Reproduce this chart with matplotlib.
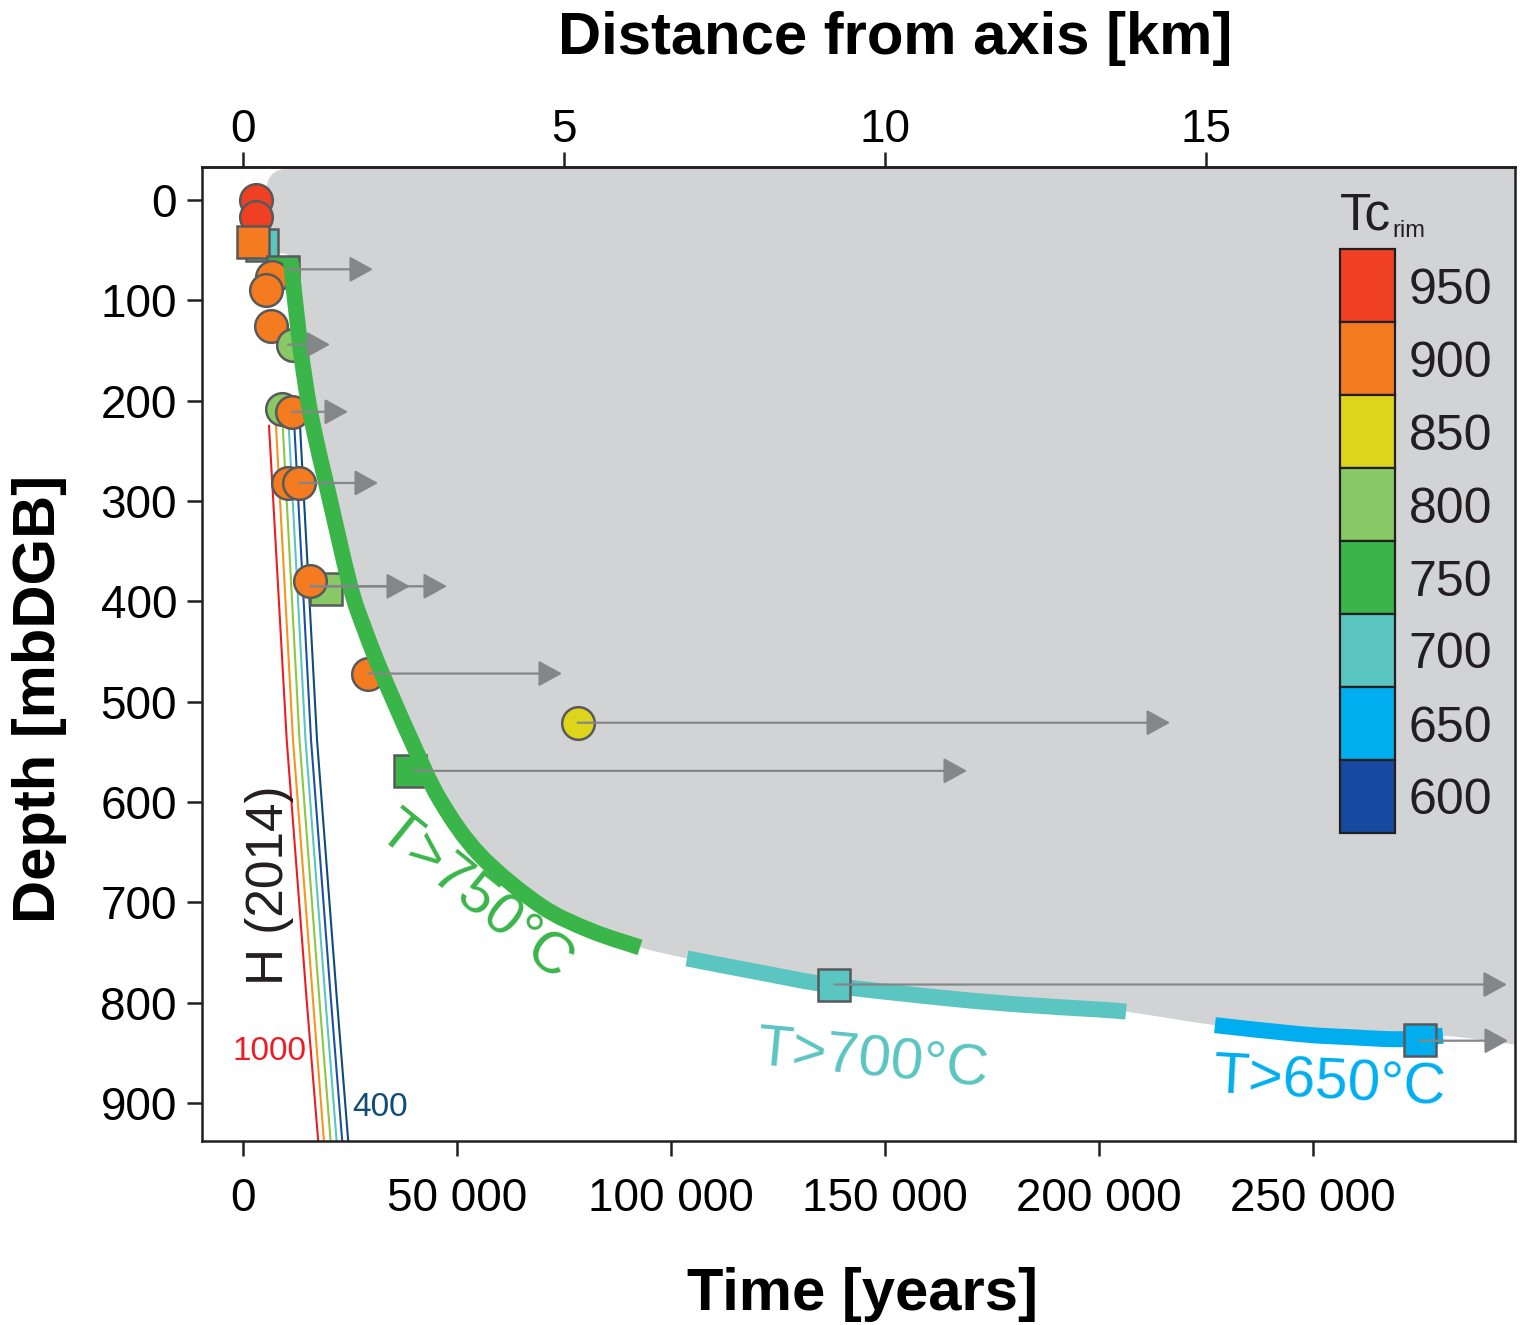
import matplotlib
matplotlib.use("Agg")
import matplotlib.pyplot as plt
from matplotlib.patches import Rectangle, PathPatch
from matplotlib.path import Path

plt.rcParams['font.family'] = ['Liberation Sans', 'DejaVu Sans']

# ---------------- data ----------------
x_ticks = [0, 50000, 100000, 150000, 200000, 250000]
x_ticklabels = ["0", "50 000", "100 000", "150 000", "200 000", "250 000"]
y_ticks = [0, 100, 200, 300, 400, 500, 600, 700, 800, 900]
y_ticklabels = ["0", "100", "200", "300", "400", "500", "600", "700", "800", "900"]
top_ticks_km = [0, 5, 10, 15]
top_ticklabels = ["0", "5", "10", "15"]
years_per_km = 15000

tc_levels = [950, 900, 850, 800, 750, 700, 650, 600]
tc_colors = ["#EF4023", "#F47B20", "#DDD41C", "#88C865",
             "#3AB54A", "#5BC5C1", "#00AEEF", "#1649A0"]

# grey envelope (upper-left rounded start), then the isotherm curves
env_top_t = [11450, 7480, 5610, 5840, 7710]
env_top_d = [-33, -28, -15, 15, 50]
env_tail_t = [297200]
env_tail_d = [842]

t750_t = [11215, 13318, 15187, 17056, 19393, 25000, 28505, 32477, 39252,
          46028, 55374, 69393, 81075, 92757]
t750_d = [62, 144, 199, 239, 282, 384, 429, 472, 538,
          598, 653, 703, 728, 745]
t700_t = [103740, 120790, 137850, 165190, 181540, 200230, 206310]
t700_d = [756, 770, 783, 796, 802, 807, 809]
t650_t = [227100, 246960, 258640, 270330, 280370]
t650_d = [822.5, 831.5, 834.5, 836.5, 833]

# H (2014) model lines, 1000 ... 400
h2014_d = [225, 538, 798, 939]
h2014_t = [
    [6080, 10210, 14880, 17590],
    [7710, 11680, 16360, 18930],
    [9280, 13200, 17870, 20490],
    [10680, 14600, 19280, 21890],
    [11990, 15890, 20560, 23200],
    [13320, 17290, 21960, 24600],
]
h2014_colors = ["#ED1C24", "#F7941D", "#8DC63F", "#5BC5C1", "#1F4FA0", "#0F4C78"]

# samples
sample_t = [2960, 2960, 4440, 2400, 9230, 6780, 5370, 6540, 11760, 9040, 11380,
            10580, 13150, 19280, 15650, 29280, 78200, 39000, 138200, 274900]
sample_d = [0, 17, 45, 42, 72, 77, 90, 126, 144, 208, 211,
            282, 282, 388, 380, 472, 521, 569, 782, 837]
sample_tc = [950, 950, 700, 900, 750, 900, 900, 900, 800, 800, 900,
             900, 900, 800, 900, 900, 850, 750, 700, 650]
sample_marker = ['o', 'o', 's', 's', 's', 'o', 'o', 'o', 'o', 'o', 'o',
                 'o', 'o', 's', 'o', 'o', 'o', 's', 's', 's']

# minimum-time arrows
arrow_d = [69, 144, 211, 282, 385, 385, 472, 521, 569, 782, 838]
arrow_from = [10280, 10520, 11380, 13150, 15650, 15650, 29280, 78200, 40000, 138200, 274900]
arrow_to = [30370, 20330, 24530, 31540, 39020, 47660, 74530, 216600, 169160, 295300, 295560]


def smooth_vertices(xs, ys):
    """Catmull-Rom through the given points, expressed as cubic Bezier path vertices."""
    pts = list(zip(xs, ys))
    n = len(pts)
    verts = [pts[0]]
    codes = [Path.MOVETO]
    for i in range(n - 1):
        p0 = pts[i - 1] if i > 0 else pts[i]
        p1 = pts[i]
        p2 = pts[i + 1]
        p3 = pts[i + 2] if i + 2 < n else pts[i + 1]
        c1 = (p1[0] + (p2[0] - p0[0]) / 6.0, p1[1] + (p2[1] - p0[1]) / 6.0)
        c2 = (p2[0] - (p3[0] - p1[0]) / 6.0, p2[1] - (p3[1] - p1[1]) / 6.0)
        verts += [c1, c2, p2]
        codes += [Path.CURVE4] * 3
    return verts, codes


# ---------------- figure ----------------
W, H = 1524, 1325
fig = plt.figure(figsize=(W / 100, H / 100), dpi=100)
ax = fig.add_axes([202 / W, 1 - 1141 / H, 1313 / W, 974 / H])
ax.set_xlim(-9580, 297200)
ax.set_ylim(938, -33)

dark = "#231F20"
grey_fill = "#D1D3D4"
arrow_col = "#848688"
edge_col = "#58595B"
tc_map = dict(zip(tc_levels, tc_colors))

# grey region
env_t = env_top_t + t750_t + t700_t + t650_t + env_tail_t
env_d = env_top_d + t750_d + t700_d + t650_d + env_tail_d
xr = ax.get_xlim()[1] + 5000
ytop = ax.get_ylim()[1] - 5
v, c = smooth_vertices(env_t, env_d)
v += [(xr, env_d[-1]), (xr, ytop), (env_t[0], ytop), (env_t[0], ytop)]
c += [Path.LINETO, Path.LINETO, Path.LINETO, Path.CLOSEPOLY]
ax.add_patch(PathPatch(Path(v, c), fc=grey_fill, ec='none', lw=0, zorder=0))

# H (2014) lines
for tt, col in zip(h2014_t, h2014_colors):
    ax.plot(tt, h2014_d, color=col, lw=1.5, zorder=1)

lw_iso = 11.5


def iso_line(ts, ds, color, z):
    vv, cc = smooth_vertices(ts, ds)
    ax.add_patch(PathPatch(Path(vv, cc), fc='none', ec=color, lw=lw_iso,
                           capstyle='butt', joinstyle='round', zorder=z))


iso_line(t700_t, t700_d, tc_map[700], 2)
iso_line(t650_t, t650_d, tc_map[650], 2)

for t, d, tc, m in zip(sample_t, sample_d, sample_tc, sample_marker):
    ax.plot([t], [d], marker=m, ms=23.5, mfc=tc_map[tc], mec=edge_col, mew=1.8,
            ls='none', zorder=3)

iso_line(t750_t, t750_d, tc_map[750], 4)

for d, a, b in zip(arrow_d, arrow_from, arrow_to):
    ax.annotate("", xy=(b, d), xytext=(a, d),
                arrowprops=dict(arrowstyle="-|>,head_length=1.45,head_width=0.8",
                                mutation_scale=10, lw=1.6, color=arrow_col,
                                shrinkA=0, shrinkB=0),
                zorder=6, annotation_clip=False)

# labels on curves
ax.text(54200, 695, "T>750°C", color=tc_map[750], fontsize=42, rotation=-39,
        ha='center', va='center', rotation_mode='anchor', zorder=7)
ax.text(147200, 858, "T>700°C", color=tc_map[700], fontsize=42, rotation=-5.5,
        ha='center', va='center', rotation_mode='anchor', zorder=7)
ax.text(253970, 881, "T>650°C", color=tc_map[650], fontsize=42, rotation=-3,
        ha='center', va='center', rotation_mode='anchor', zorder=7)
ax.text(6300, 683, "H (2014)", color=dark, fontsize=37, rotation=90,
        ha='center', va='center', rotation_mode='anchor', zorder=7)
ax.text(6300, 849, "1000", color=h2014_colors[0], fontsize=24,
        ha='center', va='center', zorder=7)
ax.text(32000, 905, "400", color=h2014_colors[-1], fontsize=24,
        ha='center', va='center', zorder=7)

# axes styling
for s in ax.spines.values():
    s.set_linewidth(1.8)
    s.set_color(dark)
ax.set_xticks(x_ticks)
ax.set_xticklabels(x_ticklabels)
ax.set_yticks(y_ticks)
ax.set_yticklabels(y_ticklabels)
ax.tick_params(axis='x', direction='out', length=11, width=1.8, color=dark,
               labelsize=33, pad=15)
ax.tick_params(axis='y', direction='out', length=11, width=1.8, color=dark,
               labelsize=33, pad=7)

sec = ax.secondary_xaxis('top', functions=(lambda t: t / years_per_km,
                                           lambda k: k * years_per_km))
sec.set_xticks(top_ticks_km)
sec.set_xticklabels(top_ticklabels)
sec.tick_params(axis='x', direction='out', length=11, width=1.8, color=dark,
                labelsize=33, pad=0)
sec.spines['top'].set_linewidth(1.8)
sec.spines['top'].set_color(dark)

ax.set_xlabel("Time [years]", fontsize=43, fontweight='bold')
ax.xaxis.set_label_coords(0.5027, -0.158)
ax.xaxis.label.set_va('center')
ax.set_ylabel("Depth [mbDGB]", fontsize=43, fontweight='bold')
ax.yaxis.set_label_coords(-0.1234, 0.4538)
ax.yaxis.label.set_va('center')
ax.text(0.5278, 1.1324, "Distance from axis [km]", transform=ax.transAxes,
        fontsize=43, fontweight='bold', ha='center', va='center')

# Tc_rim legend
lax = fig.add_axes([1340 / W, 1 - 833 / H, 55 / W, 584 / H])
lax.set_xlim(0, 1)
lax.set_ylim(0, 8)
lax.axis('off')
n = len(tc_levels)
for i, (lvl, col) in enumerate(zip(tc_levels, tc_colors)):
    lax.add_patch(Rectangle((0, n - 1 - i), 1, 1, fc=col, ec=dark, lw=1.6, clip_on=False))
    lax.text(1.25, n - 1 - i + 0.5, str(lvl), fontsize=36, color=dark,
             ha='left', va='center_baseline')
lax.text(0.0, 8.27, "Tc", fontsize=37, color=dark, ha='left', va='baseline')
lax.text(0.96, 8.16, "rim", fontsize=17, color=dark, ha='left', va='baseline')

fig.savefig("out.png", dpi=100)
